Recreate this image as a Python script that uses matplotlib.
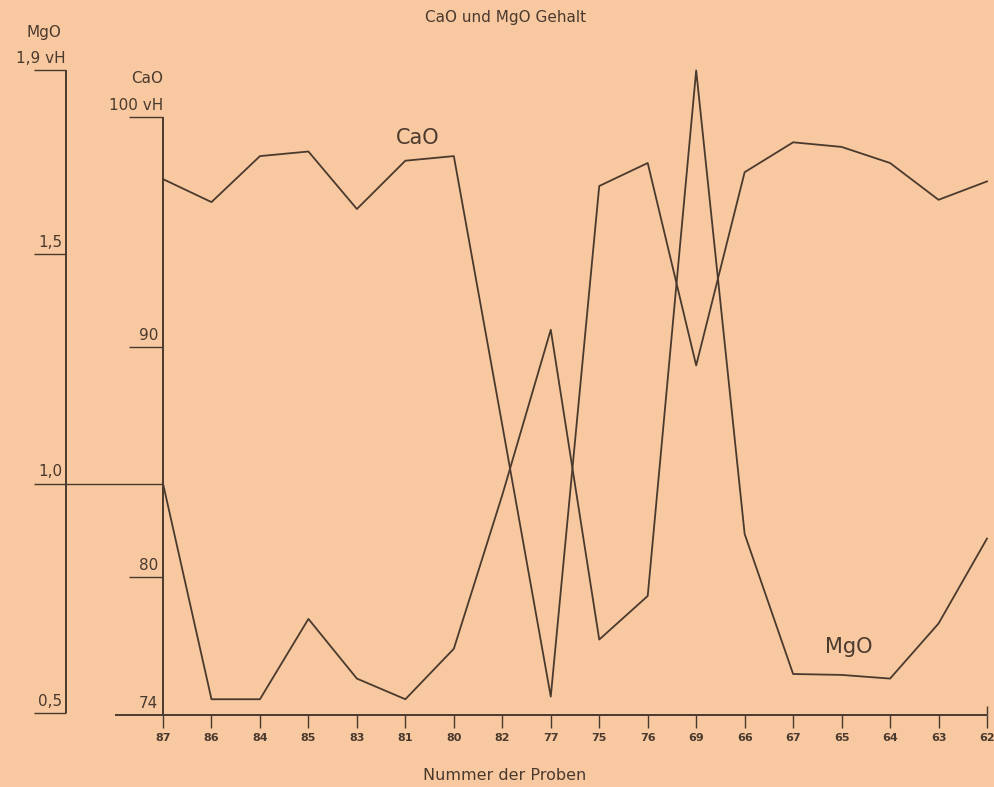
import matplotlib.pyplot as plt

# Proben in der Reihenfolge der Abszisse
proben = ['87', '86', '84', '85', '83', '81', '80', '82', '77',
          '75', '76', '69', '66', '67', '65', '64', '63', '62']
cao = [97.3, 96.3, 98.3, 98.5, 96.0, 98.1, 98.3, 86.6, 74.8,
       97.0, 98.0, 89.2, 97.6, 98.9, 98.7, 98.0, 96.4, 97.2]
mgo = [1.0, 0.53, 0.53, 0.705, 0.575, 0.53, 0.64, 0.975, 1.335,
       0.66, 0.755, 1.9, 0.89, 0.585, 0.583, 0.575, 0.695, 0.88]
cao_ticks = [74, 80, 90, 100]
cao_labels = ['74', '80', '90', '100 vH']
mgo_ticks = [0.5, 1.0, 1.5, 1.9]
mgo_labels = ['0,5', '1,0', '1,5', '1,9 vH']

bg = '#f8c8a0'
ink = '#4a3a2e'
plt.rcParams['font.family'] = ['DejaVu Sans']

fig = plt.figure(figsize=(9.95, 7.87), dpi=100, facecolor=bg)
ax = fig.add_axes([0, 0, 1, 1])
ax.set_facecolor(bg)
ax.set_xlim(-3.363, 17.165)
ax.set_ylim(70.87, 105.087)
ax.axis('off')

ax2 = fig.add_axes([0, 0, 1, 1], sharex=ax)
ax2.patch.set_visible(False)
ax2.set_ylim(0.3388, 2.0534)
ax2.axis('off')

x = list(range(len(proben)))
mg_x = -2.0  # Lage der MgO-Achse

# Kurven
ax.plot(x, cao, color=ink, lw=1.3)
ax2.plot(x, mgo, color=ink, lw=1.3)

# CaO-Achse
ax.vlines(0, cao_ticks[0], cao_ticks[-1], color=ink, lw=1.4)
ax.hlines(cao_ticks[0], -1.0, x[-1], color=ink, lw=1.4)
for v, lab in zip(cao_ticks, cao_labels):
    if v != cao_ticks[0]:
        ax.hlines(v, -0.7, 0, color=ink, lw=1.0)
    ax.annotate(lab, (0 if 'vH' in lab else -0.1, v), xytext=(0, 3),
                textcoords='offset points', ha='right', va='bottom',
                fontsize=11, color=ink)
ax.annotate('CaO', (0, cao_ticks[-1]), xytext=(0, 22), textcoords='offset points',
            ha='right', va='bottom', fontsize=11, color=ink)

# MgO-Achse
ax2.vlines(mg_x, mgo_ticks[0], mgo_ticks[-1], color=ink, lw=1.4)
for v, lab in zip(mgo_ticks, mgo_labels):
    right = 0 if v == 1.0 else mg_x
    ax2.hlines(v, -2.66, right, color=ink, lw=1.0)
    ax2.annotate(lab, (mg_x if 'vH' in lab else mg_x - 0.08, v), xytext=(0, 3),
                 textcoords='offset points', ha='right', va='bottom',
                 fontsize=11, color=ink)
ax2.annotate('MgO', (mg_x - 0.45, mgo_ticks[-1]), xytext=(0, 22),
             textcoords='offset points', ha='center', va='bottom',
             fontsize=11, color=ink)

# Abszisse
ax.vlines(x, cao_ticks[0] - 0.57, cao_ticks[0], color=ink, lw=1.0)
ax.vlines(x[-1], cao_ticks[0], cao_ticks[0] + 0.4, color=ink, lw=1.0)
for i, p in enumerate(proben):
    ax.text(i, 73.0, p, ha='center', va='center', fontsize=8,
            fontweight='bold', color=ink)

# Kurvenbeschriftung
ax.text(5.26, 99.09, 'CaO', ha='center', va='center', fontsize=15, color=ink)
ax.text(14.15, 76.96, 'MgO', ha='center', va='center', fontsize=15, color=ink)

fig.text(0.5085, 0.978, 'CaO und MgO Gehalt', ha='center', va='center',
         fontsize=11, color=ink)
fig.text(0.5075, 0.0152, 'Nummer der Proben', ha='center', va='center',
         fontsize=11.5, color=ink)

fig.savefig('out.png', dpi=100, facecolor=bg)
